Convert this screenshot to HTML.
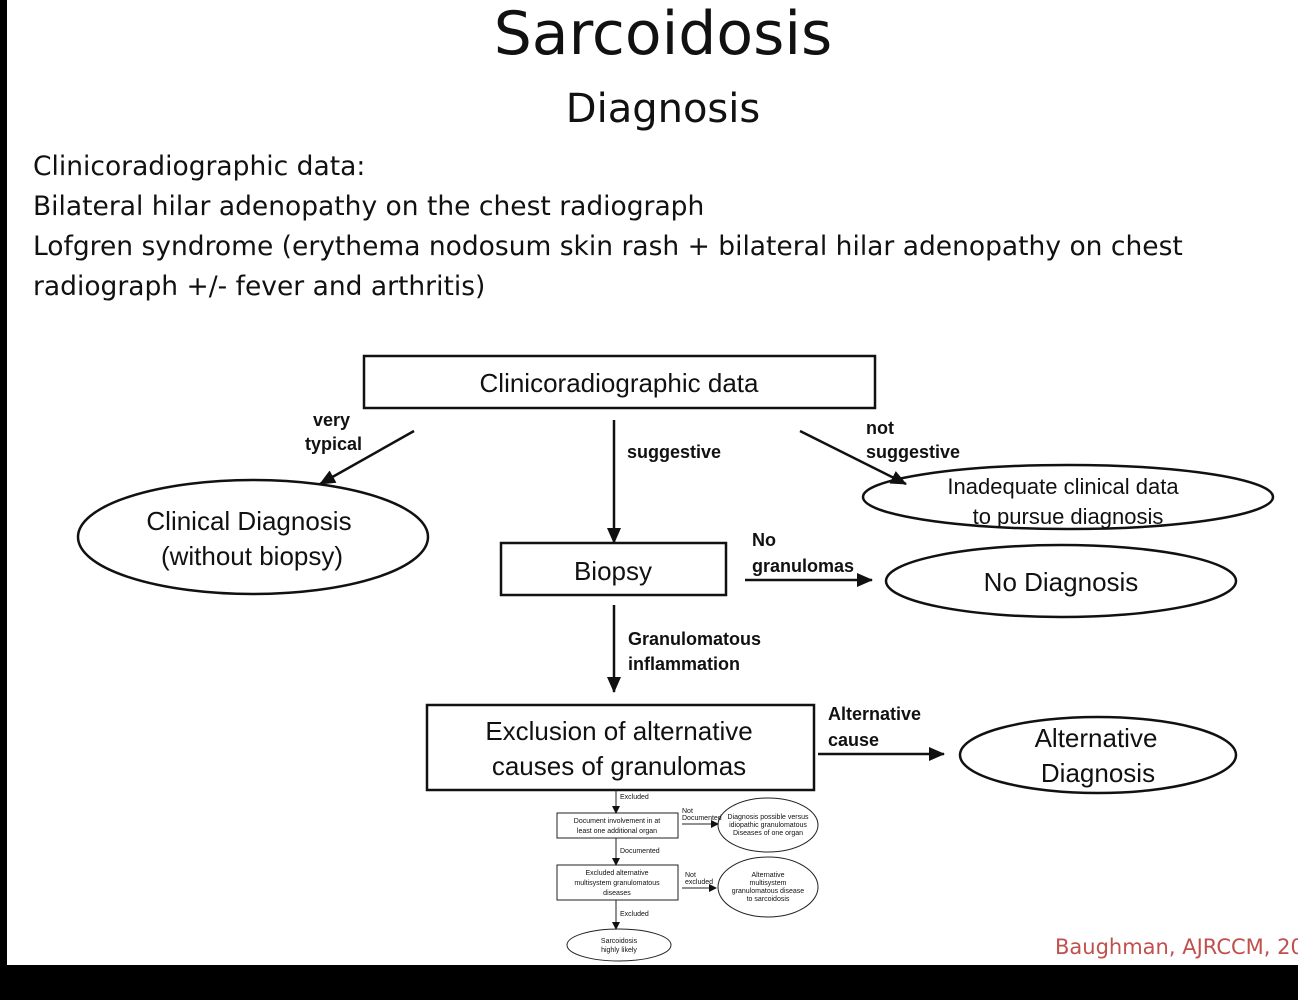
<!DOCTYPE html>
<html><head><meta charset="utf-8"><style>
html,body{margin:0;padding:0;background:#fff;}
svg{display:block;}
.t{font-family:"Liberation Sans",sans-serif;fill:#111;}
.c{font-family:"DejaVu Sans","Liberation Sans",sans-serif;fill:#111;}
</style></head><body>
<svg width="1298" height="1000" viewBox="0 0 1298 1000" xmlns="http://www.w3.org/2000/svg">
<defs><marker id="a" markerWidth="8" markerHeight="8" refX="7" refY="4" orient="auto" markerUnits="userSpaceOnUse"><path d="M0,0 L8,4 L0,8z" fill="#111"/></marker>
<marker id="b" markerWidth="16" markerHeight="14" refX="15" refY="7" orient="auto" markerUnits="userSpaceOnUse"><path d="M0,0 L16,7 L0,14z" fill="#111"/></marker></defs>
<rect x="0" y="0" width="1298" height="1000" fill="#fff"/>
<rect x="0" y="0" width="7" height="1000" fill="#000"/>
<rect x="0" y="965" width="1298" height="35" fill="#000"/>
<text class="c" x="663" y="54" font-size="60" text-anchor="middle">Sarcoidosis</text>
<text class="c" x="663" y="122" font-size="40" text-anchor="middle">Diagnosis</text>
<g class="c" font-size="26.5">
<text x="33" y="175">Clinicoradiographic data:</text>
<text x="33" y="215">Bilateral hilar adenopathy on the chest radiograph</text>
<text x="33" y="255">Lofgren syndrome (erythema nodosum skin rash + bilateral hilar adenopathy on chest</text>
<text x="33" y="295">radiograph +/- fever and arthritis)</text>
</g>
<g fill="none" stroke="#111" stroke-width="2.5">
<rect x="364" y="356" width="511" height="52"/>
<ellipse cx="253" cy="537" rx="175" ry="57"/>
<ellipse cx="1068" cy="497" rx="205" ry="32"/>
<rect x="501" y="543" width="225" height="52"/>
<ellipse cx="1061" cy="581" rx="175" ry="36"/>
<rect x="427" y="705" width="387" height="85"/>
<ellipse cx="1098" cy="755" rx="138" ry="38"/>
<line x1="414" y1="431" x2="320" y2="484" marker-end="url(#b)"/>
<line x1="614" y1="420" x2="614" y2="543" marker-end="url(#b)"/>
<line x1="800" y1="431" x2="906" y2="484" marker-end="url(#b)"/>
<line x1="745" y1="580" x2="872" y2="580" marker-end="url(#b)"/>
<line x1="614" y1="605" x2="614" y2="692" marker-end="url(#b)"/>
<line x1="818" y1="754" x2="944" y2="754" marker-end="url(#b)"/>
</g>
<g class="t" font-size="26">
<text x="619" y="392" text-anchor="middle">Clinicoradiographic data</text>
<text x="249" y="530" text-anchor="middle">Clinical Diagnosis</text>
<text x="252" y="565" text-anchor="middle">(without biopsy)</text>
<text x="613" y="580" text-anchor="middle">Biopsy</text>
<text x="1061" y="591" text-anchor="middle">No Diagnosis</text>
<text x="619" y="740" text-anchor="middle">Exclusion of alternative</text>
<text x="619" y="775" text-anchor="middle">causes of granulomas</text>
<text x="1096" y="747" text-anchor="middle">Alternative</text>
<text x="1098" y="782" text-anchor="middle">Diagnosis</text>
</g>
<g class="t" font-size="22">
<text x="1063" y="494" text-anchor="middle">Inadequate clinical data</text>
<text x="1068" y="524" text-anchor="middle">to pursue diagnosis</text>
</g>
<g class="t" font-size="18" font-weight="bold">
<text x="313" y="426">very</text><text x="305" y="450">typical</text>
<text x="627" y="458">suggestive</text>
<text x="866" y="434">not</text><text x="866" y="458">suggestive</text>
<text x="752" y="546">No</text><text x="752" y="572">granulomas</text>
<text x="628" y="645">Granulomatous</text><text x="628" y="670">inflammation</text>
<text x="828" y="720">Alternative</text><text x="828" y="746">cause</text>
</g>
<g fill="none" stroke="#222" stroke-width="1">
<line x1="616" y1="790" x2="616" y2="813" marker-end="url(#a)"/>
<rect x="557" y="813" width="121" height="25"/>
<line x1="682" y1="824" x2="718" y2="824" marker-end="url(#a)"/>
<ellipse cx="768" cy="825" rx="50" ry="27"/>
<line x1="616" y1="838" x2="616" y2="865" marker-end="url(#a)"/>
<rect x="557" y="865" width="121" height="35"/>
<line x1="682" y1="888" x2="716" y2="888" marker-end="url(#a)"/>
<ellipse cx="768" cy="887" rx="50" ry="30"/>
<line x1="616" y1="900" x2="616" y2="929" marker-end="url(#a)"/>
<ellipse cx="619" cy="945" rx="52" ry="16"/>
</g>
<g class="t" font-size="7" fill="#333">
<text x="620" y="799">Excluded</text>
<text x="617" y="823" text-anchor="middle">Document involvement in at</text>
<text x="617" y="833" text-anchor="middle">least one additional organ</text>
<text x="682" y="813">Not</text><text x="682" y="820">Documented</text>
<text x="768" y="819" text-anchor="middle">Diagnosis possible versus</text>
<text x="768" y="827" text-anchor="middle">idiopathic granulomatous</text>
<text x="768" y="835" text-anchor="middle">Diseases of one organ</text>
<text x="620" y="853">Documented</text>
<text x="617" y="875" text-anchor="middle">Excluded alternative</text>
<text x="617" y="885" text-anchor="middle">multisystem granulomatous</text>
<text x="617" y="895" text-anchor="middle">diseases</text>
<text x="685" y="877">Not</text><text x="685" y="884">excluded</text>
<text x="768" y="877" text-anchor="middle">Alternative</text>
<text x="768" y="885" text-anchor="middle">multisystem</text>
<text x="768" y="893" text-anchor="middle">granulomatous disease</text>
<text x="768" y="901" text-anchor="middle">to sarcoidosis</text>
<text x="620" y="916">Excluded</text>
<text x="619" y="943" text-anchor="middle">Sarcoidosis</text>
<text x="619" y="952" text-anchor="middle">highly likely</text>
</g>
<text class="c" x="1055" y="954" font-size="21" style="fill:#c0504d">Baughman, AJRCCM, 20</text>
</svg>
</body></html>
